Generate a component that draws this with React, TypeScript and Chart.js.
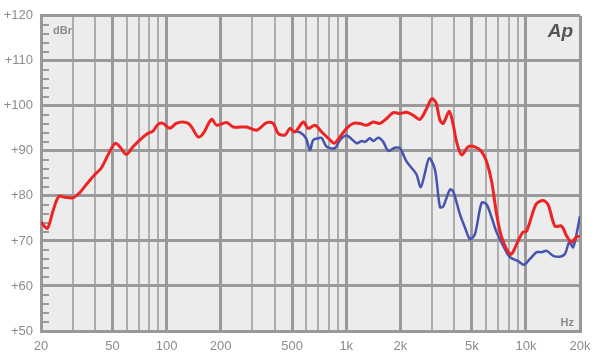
import React, { useEffect, useRef } from 'react';
import { Chart, registerables } from 'chart.js';

Chart.register(...registerables);

// Red trace (frequency in Hz, level in dBr)
const redFreq = [20, 21.7, 23.3, 25.1, 27.1, 30.1, 32.8, 35.7, 39.8, 43.3, 47.2, 51.8, 55.5, 59.7, 65, 70.8, 78.8, 84, 89.6, 95.5, 104, 113, 123, 132, 138, 150, 160, 178, 190, 216, 235, 279, 317, 361, 392, 418, 456, 486, 518, 577, 615, 670, 730, 795, 858, 923, 1005, 1094, 1192, 1299, 1414, 1540, 1678, 1826, 1990, 2168, 2360, 2571, 2802, 2989, 3158, 3324, 3466, 3743, 3911, 4116, 4389, 4774, 5204, 5670, 6044, 6446, 6873, 7330, 8224, 8883, 9597, 10102, 11367, 12478, 13306, 14501, 15803, 16851, 17970, 18990, 20000];
const redDb = [74.2, 72.8, 76.6, 79.9, 79.7, 79.6, 80.7, 82.5, 84.7, 86.2, 89.1, 91.7, 90.7, 89.2, 90.9, 92.4, 93.9, 94.4, 95.9, 96.1, 95.0, 96.1, 96.4, 96.1, 95.3, 93.1, 93.9, 97.0, 95.7, 96.3, 95.3, 95.3, 94.6, 96.3, 96.1, 93.9, 93.5, 95.0, 94.2, 96.4, 95.0, 95.7, 94.2, 92.8, 91.7, 93.1, 95.0, 96.1, 96.1, 95.7, 96.4, 96.1, 97.2, 98.5, 98.3, 98.6, 97.9, 97.0, 99.4, 101.6, 100.7, 96.8, 96.1, 98.8, 96.4, 92.0, 89.1, 90.9, 90.9, 89.8, 87.6, 83.2, 75.9, 70.8, 67.0, 69.3, 71.9, 72.2, 78.1, 79.0, 78.0, 73.3, 73.3, 71.1, 69.7, 70.8, 71.1];

// Blue trace
const blueFreq = [507, 553, 597, 628, 655, 699, 730, 778, 865, 923, 1005, 1143, 1218, 1271, 1355, 1414, 1507, 1607, 1713, 1866, 1990, 2168, 2312, 2465, 2595, 2742, 2897, 3118, 3324, 3466, 3776, 3940, 4294, 4577, 4881, 5204, 5670, 6044, 6446, 6873, 7478, 8149, 9065, 9756, 10531, 11475, 12233, 13038, 14197, 15463, 16494, 17426, 18338, 20000];
const blueDb = [94.4, 94.1, 92.8, 90.2, 92.4, 92.8, 92.9, 90.9, 90.6, 92.4, 93.4, 91.7, 92.2, 92.0, 92.8, 92.2, 92.9, 92.0, 90.0, 90.7, 90.6, 87.6, 86.2, 84.7, 81.9, 85.1, 88.4, 85.8, 77.5, 77.7, 81.4, 81.0, 75.9, 73.0, 70.4, 71.5, 78.5, 78.1, 75.2, 71.9, 68.9, 66.4, 65.5, 64.7, 66.0, 67.5, 67.5, 67.8, 66.7, 66.5, 67.1, 69.7, 68.6, 75.5];

// Axes
const xGridValues = [20, 30, 40, 50, 60, 70, 80, 90, 100, 200, 300, 400, 500, 600, 700, 800, 900, 1000, 2000, 3000, 4000, 5000, 6000, 7000, 8000, 9000, 10000, 20000];
const xLabelValues = [20, 50, 100, 200, 500, 1000, 2000, 5000, 10000, 20000];
const xLabelTexts = ['20', '50', '100', '200', '500', '1k', '2k', '5k', '10k', '20k'];
const yTickValues = [50, 60, 70, 80, 90, 100, 110, 120];
const yTickLabels = ['+50', '+60', '+70', '+80', '+90', '+100', '+110', '+120'];
const yMinorValues = [52, 54, 56, 58, 62, 64, 66, 68, 72, 74, 76, 78, 82, 84, 86, 88, 92, 94, 96, 98, 102, 104, 106, 108, 112, 114, 116, 118];

const FONT = "'Liberation Sans', Arial, Helvetica, sans-serif";

const isLabeled = (v: number) => xLabelValues.indexOf(v) >= 0;

const decorPlugin = {
  id: 'decor',
  beforeDraw(chart: any) {
    const { ctx, chartArea } = chart;
    const { left, top, right, bottom } = chartArea;
    ctx.save();
    ctx.fillStyle = '#ececec';
    ctx.fillRect(left, top, right - left, bottom - top);
    ctx.restore();
  },
  beforeDatasetsDraw(chart: any) {
    const { ctx, chartArea } = chart;
    const ys = chart.scales.y;
    ctx.save();
    ctx.strokeStyle = '#9a9a9a';
    ctx.lineWidth = 2;
    for (const v of yMinorValues) {
      const py = Math.round(ys.getPixelForValue(v));
      ctx.beginPath();
      ctx.moveTo(chartArea.left, py);
      ctx.lineTo(chartArea.left + 8, py);
      ctx.stroke();
    }
    ctx.restore();
  },
  afterDatasetsDraw(chart: any) {
    const { ctx, chartArea } = chart;
    ctx.save();
    ctx.fillStyle = '#8a8a8a';
    ctx.font = `bold 11px ${FONT}`;
    ctx.textBaseline = 'alphabetic';
    ctx.textAlign = 'left';
    ctx.fillText('dBr', chartArea.left + 12, chartArea.top + 18);
    ctx.textAlign = 'right';
    ctx.fillText('Hz', chartArea.right - 6, chartArea.bottom - 5);
    ctx.fillStyle = '#555555';
    ctx.font = `italic bold 19px ${FONT}`;
    ctx.fillText('Ap', chartArea.right - 7, chartArea.top + 21);
    ctx.restore();
  },
};

export default function App() {
  const canvasRef = useRef<HTMLCanvasElement | null>(null);

  useEffect(() => {
    const canvas = canvasRef.current;
    if (!canvas) return;
    const chart = new Chart(canvas, {
      type: 'line',
      data: {
        datasets: [
          {
            label: 'red',
            data: redFreq.map((f, i) => ({ x: f, y: redDb[i] })),
            borderColor: '#ee2424',
            borderWidth: 3,
            pointRadius: 0,
            tension: 0.3,
            fill: false,
          },
          {
            label: 'blue',
            data: blueFreq.map((f, i) => ({ x: f, y: blueDb[i] })),
            borderColor: '#4654b0',
            borderWidth: 2.5,
            pointRadius: 0,
            tension: 0.3,
            fill: false,
          },
        ],
      },
      options: {
        responsive: false,
        animation: false,
        events: [],
        layout: { padding: { left: 0, right: 20, top: 13, bottom: 0 } },
        plugins: {
          legend: { display: false },
          tooltip: { enabled: false },
          title: { display: false },
        },
        scales: {
          x: {
            type: 'logarithmic',
            min: 20,
            max: 20000,
            afterBuildTicks: (scale: any) => {
              scale.ticks = xGridValues.map((v) => ({ value: v }));
            },
            afterFit: (scale: any) => {
              scale.height = 31;
            },
            ticks: {
              autoSkip: false,
              maxRotation: 0,
              minRotation: 0,
              padding: 8,
              color: '#8c8c8c',
              font: { family: FONT, size: 13 },
              callback: (value: any) => {
                const idx = xLabelValues.indexOf(Number(value));
                return idx >= 0 ? xLabelTexts[idx] : '';
              },
            },
            grid: {
              drawTicks: false,
              color: (ctx: any) => (ctx.tick && isLabeled(ctx.tick.value) ? '#999999' : '#adadad'),
              lineWidth: (ctx: any) => (ctx.tick && isLabeled(ctx.tick.value) ? 3 : 2),
            },
            border: { display: true, color: '#999999', width: 3 },
          },
          y: {
            type: 'linear',
            min: 50,
            max: 120,
            afterBuildTicks: (scale: any) => {
              scale.ticks = yTickValues.map((v) => ({ value: v }));
            },
            afterFit: (scale: any) => {
              scale.width = 41;
            },
            ticks: {
              padding: 8,
              color: '#8c8c8c',
              font: { family: FONT, size: 13 },
              callback: (value: any) => {
                const idx = yTickValues.indexOf(Number(value));
                return idx >= 0 ? yTickLabels[idx] : '';
              },
            },
            grid: {
              drawTicks: false,
              color: '#9a9a9a',
              lineWidth: 3,
            },
            border: { display: true, color: '#999999', width: 3 },
          },
        },
      },
      plugins: [decorPlugin],
    } as any);
    return () => chart.destroy();
  }, []);

  return (
    <div style={{ position: 'fixed', left: 0, top: 0, width: 600, height: 362, background: '#ffffff' }}>
      <canvas ref={canvasRef} width={600} height={362} style={{ display: 'block', width: 600, height: 362 }} />
    </div>
  );
}
